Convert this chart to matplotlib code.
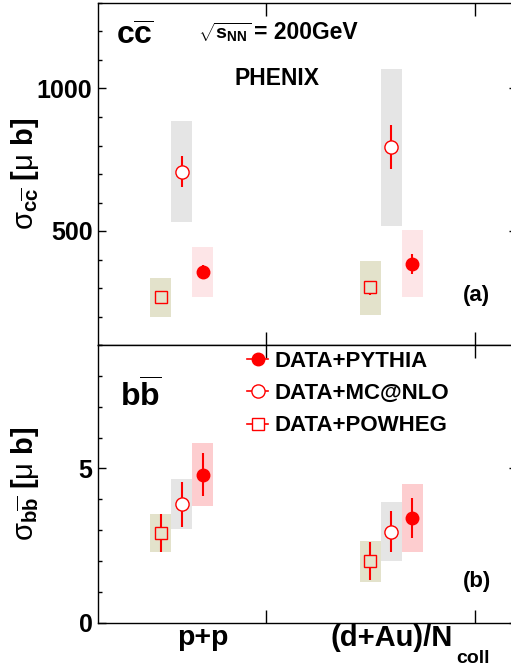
import matplotlib
matplotlib.use("Agg")
import matplotlib.pyplot as plt
import numpy as np
from matplotlib.lines import Line2D
from matplotlib.ticker import MultipleLocator

plt.rcParams['font.family'] = ['Liberation Sans', 'DejaVu Sans']
plt.rcParams['font.weight'] = 'bold'
plt.rcParams['mathtext.fontset'] = 'custom'
plt.rcParams['mathtext.rm'] = 'Liberation Sans:weight=normal'
plt.rcParams['mathtext.it'] = 'Liberation Sans:weight=bold'
plt.rcParams['mathtext.bf'] = 'Liberation Sans:weight=bold'

# x groups
groups = [1, 2]          # p+p, (d+Au)/Ncoll
offsets = {'POWHEG': -0.1, 'MCNLO': 0.0, 'PYTHIA': 0.1}

# c cbar cross section [mu b] : value, stat low/high, sys low/high
cc_pythia = [356, 385]
cc_pythia_lo = [331, 350]
cc_pythia_hi = [381, 420]
cc_pythia_sys_lo = [267, 267]
cc_pythia_sys_hi = [444, 503]

cc_mcnlo = [706, 795]
cc_mcnlo_lo = [653, 716]
cc_mcnlo_hi = [762, 873]
cc_mcnlo_sys_lo = [533, 519]
cc_mcnlo_sys_hi = [885, 1069]

cc_powheg = [267, 303]
cc_powheg_lo = [257, 277]
cc_powheg_hi = [277, 326]
cc_powheg_sys_lo = [200, 207]
cc_powheg_sys_hi = [336, 395]

# b bbar cross section [mu b]
bb_pythia = [4.80, 3.40]
bb_pythia_lo = [4.10, 2.75]
bb_pythia_hi = [5.50, 4.05]
bb_pythia_sys_lo = [3.79, 2.28]
bb_pythia_sys_hi = [5.81, 4.51]

bb_mcnlo = [3.85, 2.95]
bb_mcnlo_lo = [3.11, 2.28]
bb_mcnlo_hi = [4.56, 3.61]
bb_mcnlo_sys_lo = [3.03, 2.01]
bb_mcnlo_sys_hi = [4.65, 3.91]

bb_powheg = [2.91, 2.01]
bb_powheg_lo = [2.28, 1.40]
bb_powheg_hi = [3.53, 2.60]
bb_powheg_sys_lo = [2.30, 1.33]
bb_powheg_sys_hi = [3.53, 2.64]

legend_labels = ['DATA+PYTHIA', 'DATA+MC@NLO', 'DATA+POWHEG']

red = '#ff0000'
box_powheg = '#e3e2cb'
box_mcnlo = '#e5e5e5'
box_pythia_top = '#fde5e7'
box_pythia_bot = '#fdcdcf'

fig = plt.figure(figsize=(5.11, 6.68), dpi=100)
L = 98 / 511
W = (517 - 98) / 511
ax1 = fig.add_axes([L, 1 - 345 / 668, W, (345 - 3) / 668])
ax2 = fig.add_axes([L, 1 - 622.7 / 668, W, (622.7 - 345) / 668])


def draw(ax, series, box_cols):
    for (val, lo, hi, slo, shi, key, marker, mfc, ms), bc in zip(series, box_cols):
        x = np.array(groups) + offsets[key]
        val = np.array(val)
        slo = np.array(slo)
        shi = np.array(shi)
        ax.bar(x, shi - slo, bottom=slo, width=0.1, color=bc, zorder=1)
        yerr = [val - np.array(lo), np.array(hi) - val]
        ax.errorbar(x, val, yerr=yerr, fmt=marker, color=red, mfc=mfc,
                    mec=red, ms=ms, mew=1.0, elinewidth=1.5, capsize=0, zorder=3)


draw(ax1, [
    (cc_powheg, cc_powheg_lo, cc_powheg_hi, cc_powheg_sys_lo, cc_powheg_sys_hi, 'POWHEG', 's', box_powheg, 8),
    (cc_mcnlo, cc_mcnlo_lo, cc_mcnlo_hi, cc_mcnlo_sys_lo, cc_mcnlo_sys_hi, 'MCNLO', 'o', 'white', 9.5),
    (cc_pythia, cc_pythia_lo, cc_pythia_hi, cc_pythia_sys_lo, cc_pythia_sys_hi, 'PYTHIA', 'o', red, 9),
], [box_powheg, box_mcnlo, box_pythia_top])

draw(ax2, [
    (bb_powheg, bb_powheg_lo, bb_powheg_hi, bb_powheg_sys_lo, bb_powheg_sys_hi, 'POWHEG', 's', box_powheg, 8),
    (bb_mcnlo, bb_mcnlo_lo, bb_mcnlo_hi, bb_mcnlo_sys_lo, bb_mcnlo_sys_hi, 'MCNLO', 'o', 'white', 9.5),
    (bb_pythia, bb_pythia_lo, bb_pythia_hi, bb_pythia_sys_lo, bb_pythia_sys_hi, 'PYTHIA', 'o', red, 9),
], [box_powheg, box_mcnlo, box_pythia_bot])

ax1.set_ylim(100, 1300)
ax1.yaxis.set_major_locator(MultipleLocator(500))
ax1.yaxis.set_minor_locator(MultipleLocator(100))
ax2.set_ylim(0, 9)
ax2.yaxis.set_major_locator(MultipleLocator(5))
ax2.yaxis.set_minor_locator(MultipleLocator(1))

for ax in (ax1, ax2):
    ax.set_xlim(0.6, 2.6)
    ax.set_xticks([1.4, 2.4])
    ax.set_xticklabels([])
    ax.tick_params(axis='both', which='both', direction='in', top=True, right=True)
    ax.tick_params(axis='y', which='major', length=6, width=1, labelsize=18, pad=4)
    ax.tick_params(axis='y', which='minor', length=3, width=1)
    ax.tick_params(axis='x', which='major', length=9.5, width=1)
    for s in ax.spines.values():
        s.set_linewidth(1)
    for lab in ax.get_yticklabels():
        lab.set_fontweight('bold')

ax1.set_ylabel(r'$\mathrm{\sigma}_{c\overline{c}}$ [$\mathrm{\mu}$ b]', fontsize=21, fontweight='bold')
ax2.set_ylabel(r'$\mathrm{\sigma}_{b\overline{b}}$ [$\mathrm{\mu}$ b]', fontsize=21, fontweight='bold')
ax1.yaxis.set_label_coords(-0.135, 0.5)
ax2.yaxis.set_label_coords(-0.135, 0.5)

# panel texts
ax1.text(0.043, 0.877, r'$c\overline{c}$', transform=ax1.transAxes, fontsize=23, va='baseline')
ax1.text(0.238, 0.895, r'$\sqrt{s_{NN}}$', transform=ax1.transAxes, fontsize=14, va='baseline')
ax1.text(0.372, 0.895, '= 200GeV', transform=ax1.transAxes, fontsize=16.5, va='baseline')
ax1.text(0.325, 0.76, 'PHENIX', transform=ax1.transAxes, fontsize=16.5, va='baseline')
ax1.text(0.871, 0.13, '(a)', transform=ax1.transAxes, fontsize=16, va='baseline')

ax2.text(0.0525, 0.777, r'$b\overline{b}$', transform=ax2.transAxes, fontsize=23, va='baseline')
ax2.text(0.871, 0.13, '(b)', transform=ax2.transAxes, fontsize=16, va='baseline')

# category labels below
ax2.text(1.1, -0.08, 'p+p', transform=ax2.get_xaxis_transform(), fontsize=20.5,
         ha='center', va='baseline')
ax2.text(1.71, -0.084, '(d+Au)/N', transform=ax2.get_xaxis_transform(), fontsize=21,
         ha='left', va='baseline')
ax2.text(2.31, -0.145, 'coll', transform=ax2.get_xaxis_transform(), fontsize=14,
         ha='left', va='baseline')

handles = [
    Line2D([], [], color=red, marker='o', mfc=red, mec=red, ms=9, lw=1.2),
    Line2D([], [], color=red, marker='o', mfc='white', mec=red, ms=9.5, lw=1.2, mew=1.0),
    Line2D([], [], color=red, marker='s', mfc='white', mec=red, ms=8, lw=1.2, mew=1.0),
]
ax2.legend(handles, legend_labels, loc='upper left', bbox_to_anchor=(0.356, 0.978),
           frameon=False, fontsize=16, handlelength=0.95, handletextpad=0.3,
           labelspacing=0.5, borderpad=0, borderaxespad=0)

fig.savefig('out.png', dpi=100)
